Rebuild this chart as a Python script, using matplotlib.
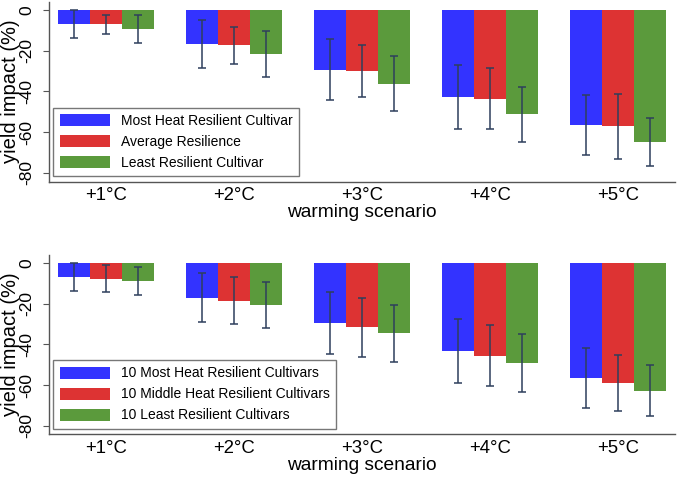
import matplotlib.pyplot as plt
import numpy as np

plt.rcParams['font.family'] = ['Liberation Sans', 'DejaVu Sans']

scenarios = ["+1°C", "+2°C", "+3°C", "+4°C", "+5°C"]

# top panel: single cultivars
top_labels = ["Most Heat Resilient Cultivar", "Average Resilience", "Least Resilient Cultivar"]
top_most = [-6.8, -16.7, -29.3, -42.7, -56.3]
top_avg = [-7.1, -17.3, -29.9, -43.6, -57.1]
top_least = [-9.3, -21.6, -36.3, -51.1, -64.8]
top_most_err = [6.9, 12.0, 15.0, 15.9, 14.8]
top_avg_err = [4.9, 9.2, 12.8, 15.0, 16.1]
top_least_err = [6.8, 11.3, 13.5, 13.5, 11.9]

# bottom panel: groups of 10 cultivars
bot_labels = ["10 Most Heat Resilient Cultivars", "10 Middle Heat Resilient Cultivars",
              "10 Least Resilient Cultivars"]
bot_most = [-6.9, -17.0, -29.5, -43.2, -56.6]
bot_mid = [-7.6, -18.4, -31.5, -45.5, -59.1]
bot_least = [-8.7, -20.6, -34.5, -49.1, -62.8]
bot_most_err = [6.95, 12.05, 15.15, 15.85, 14.7]
bot_mid_err = [6.75, 11.7, 14.55, 15.05, 13.85]
bot_least_err = [6.7, 11.45, 13.95, 14.1, 12.55]

colors = ["#3333ff", "#dd3333", "#5b9a3c"]
err_col = "#2e3f5c"

fig = plt.figure(figsize=(6.77, 4.79), dpi=100)
ax1 = fig.add_axes([0.0728, 0.6207, 0.9242, 0.3758])
ax2 = fig.add_axes([0.0728, 0.0933, 0.9242, 0.3743])

x = np.arange(1, 6)
w = 0.25


def panel(ax, vals, errs, labels):
    for i, (v, e) in enumerate(zip(vals, errs)):
        pos = x + (i - 1) * w
        ax.bar(pos, v, width=w, color=colors[i], label=labels[i], zorder=2)
        ax.errorbar(pos, v, yerr=e, fmt="none", ecolor=err_col, elinewidth=1.1,
                    capsize=3, capthick=1.1, zorder=3)
    ax.set_xlim(0.555, 5.445)
    ax.set_ylim(-84.3, 4.1)
    ax.set_yticks([0, -20, -40, -60, -80])
    ax.set_yticklabels(["0", "-20", "-40", "-60", "-80"], rotation=90, va="center")
    ax.set_xticks(x)
    ax.set_xticklabels(scenarios)
    ax.tick_params(axis="x", length=0, labelsize=13.3, pad=4)
    ax.tick_params(axis="y", length=4.5, labelsize=12.5, color="#555555", pad=6)
    for s in ["top", "right"]:
        ax.spines[s].set_visible(False)
    for s in ["left", "bottom"]:
        ax.spines[s].set_color("#555555")
        ax.spines[s].set_linewidth(1.0)
    ax.set_ylabel("yield impact (%)", fontsize=14.5, labelpad=0)
    ax.set_xlabel("warming scenario", fontsize=13.8, labelpad=0)
    leg = ax.legend(loc="lower left", bbox_to_anchor=(0.0065, 0.032), fontsize=10,
                    frameon=True, fancybox=False, edgecolor="#555555",
                    handlelength=3.6, handleheight=0.95, labelspacing=0.5,
                    handletextpad=0.8, borderpad=0.45, borderaxespad=0)
    leg.get_frame().set_linewidth(1.0)


panel(ax1, [top_most, top_avg, top_least], [top_most_err, top_avg_err, top_least_err],
      top_labels)
panel(ax2, [bot_most, bot_mid, bot_least], [bot_most_err, bot_mid_err, bot_least_err],
      bot_labels)

fig.savefig("out.png", dpi=100)
